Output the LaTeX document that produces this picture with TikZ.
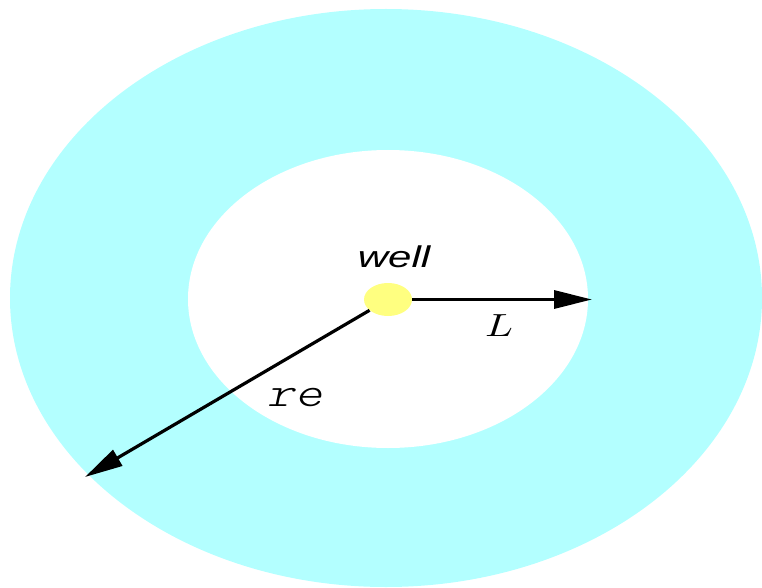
\documentclass[tikz,border=0pt]{standalone}
\usepackage{fontspec}
\newfontfamily\wellfont{Liberation Sans}
\newfontfamily\remono{Latin Modern Mono Light}
\usetikzlibrary{arrows.meta,shapes.geometric}
\definecolor{ring}{HTML}{B3FFFF}
\definecolor{wellyellow}{HTML}{FFFF80}
\tikzset{
  radarrow/.style={line width=3.2pt, -{Triangle[length=38pt,width=18pt]}},
  lbl/.style={inner sep=0pt, anchor=center}
}
\begin{document}
\begin{tikzpicture}[x=1pt,y=-1pt]
\useasboundingbox (0,0) rectangle (762,588);
\fill[ring] (386,298) ellipse [x radius=376, y radius=289];
\fill[white] (388,299) ellipse [x radius=200, y radius=149];
\node[ellipse, fill=wellyellow, minimum width=48pt, minimum height=33pt, inner sep=0pt] (well) at (388,299.5) {};
\coordinate (Lend) at (592,299.5);
\coordinate (reend) at (85,477);
\draw[radarrow] (well.east) -- (Lend);
\draw[radarrow] (well) -- (reend);
\node[lbl] (welllabel) at (394,257) {\scalebox{1.4}[1]{\fontsize{30}{30}\selectfont\wellfont\itshape well}};
\node[lbl] (Llabel) at (499,326) {\scalebox{4.1}[3.2]{$L$}};
\node[lbl] (relabel) at (295,398) {\scalebox{1.25}[1]{\fontsize{42}{42}\selectfont\remono\itshape re}};
\end{tikzpicture}
\end{document}
